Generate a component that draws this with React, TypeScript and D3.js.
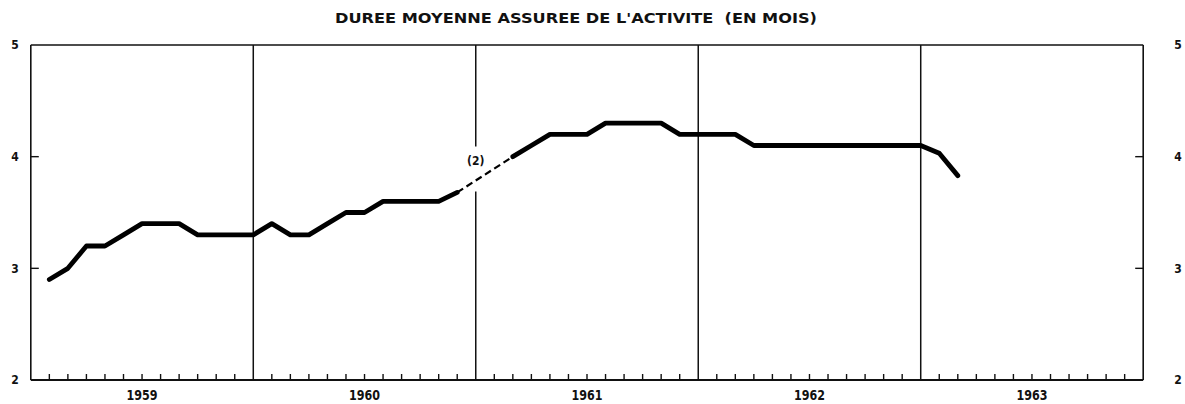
import React from "react";
import * as d3 from "d3";

// Monthly values, month index 1 = first point of 1959 (null = missing, bridged by dashed line)
const values1959: (number | null)[] = [2.9, 3.0, 3.2, 3.2, 3.3, 3.4, 3.4, 3.4, 3.3, 3.3, 3.3, 3.3];
const values1960: (number | null)[] = [3.4, 3.3, 3.3, 3.4, 3.5, 3.5, 3.6, 3.6, 3.6, 3.6, 3.68, null];
const values1961: (number | null)[] = [null, 4.0, 4.1, 4.2, 4.2, 4.2, 4.3, 4.3, 4.3, 4.3, 4.2, 4.2];
const values1962: (number | null)[] = [4.2, 4.2, 4.1, 4.1, 4.1, 4.1, 4.1, 4.1, 4.1, 4.1, 4.1, 4.1];
const values1963: (number | null)[] = [4.03, 3.83];

const years = ["1959", "1960", "1961", "1962", "1963"];
const yTicks = [2, 3, 4, 5];
const title = "DUREE MOYENNE ASSUREE DE L'ACTIVITE  (EN MOIS)";
const noteLabel = "(2)";

const W = 1185;
const H = 404;
const left = 30.8;
const right = 1143.2;
const top = 45;
const bottom = 380;

export default function App() {
  const allValues = [...values1959, ...values1960, ...values1961, ...values1962, ...values1963];
  const pts = allValues.map((v, i) => ({ m: i + 1, v }));
  const x = d3.scaleLinear().domain([0, 60]).range([left, right]);
  const y = d3.scaleLinear().domain([2, 5]).range([bottom, top]);

  const line = d3
    .line<{ m: number; v: number | null }>()
    .defined((d) => d.v !== null)
    .x((d) => x(d.m))
    .y((d) => y(d.v as number));

  // gap bridge
  const defined = pts.filter((d) => d.v !== null);
  const bridges: { a: any; b: any }[] = [];
  for (let i = 1; i < defined.length; i++) {
    if (defined[i].m - defined[i - 1].m > 1) bridges.push({ a: defined[i - 1], b: defined[i] });
  }

  const months = d3.range(1, 60).filter((m) => m % 12 !== 0);
  const yearBounds = [12, 24, 36, 48];
  const font = "'DejaVu Sans Condensed', 'Liberation Sans Narrow', sans-serif";

  const noteX = x(24);
  const noteY = 160.7;

  return (
    <svg width={W} height={H} style={{ position: "absolute", left: 0, top: 0, background: "#fff" }}>
      <rect x={0} y={0} width={W} height={H} fill="#fff" />
      <text
        x={576}
        y={23}
        textAnchor="middle"
        fontFamily="'DejaVu Sans', sans-serif"
        fontWeight="bold"
        fontSize={14.5}
        textLength={482}
        lengthAdjust="spacingAndGlyphs"
        fill="#111"
        style={{ whiteSpace: "pre" }}
      >
        {title}
      </text>

      {/* frame */}
      <line x1={left} x2={right} y1={top} y2={top} stroke="#111" strokeWidth={1.6} />
      <line x1={left} x2={left} y1={top} y2={bottom} stroke="#111" strokeWidth={1.6} />
      <line x1={right} x2={right} y1={top} y2={bottom} stroke="#111" strokeWidth={1.6} />
      <line x1={left} x2={right} y1={bottom} y2={bottom} stroke="#111" strokeWidth={2} />

      {/* year separators */}
      {yearBounds.map((m) =>
        m === 24 ? (
          <g key={m}>
            <line x1={x(m)} x2={x(m)} y1={top} y2={146.5} stroke="#111" strokeWidth={1.5} />
            <line x1={x(m)} x2={x(m)} y1={191.5} y2={bottom} stroke="#111" strokeWidth={1.5} />
          </g>
        ) : (
          <line key={m} x1={x(m)} x2={x(m)} y1={top} y2={bottom} stroke="#111" strokeWidth={1.5} />
        )
      )}

      {/* month ticks */}
      {months.map((m) => (
        <line key={m} x1={x(m)} x2={x(m)} y1={bottom} y2={bottom - 6} stroke="#111" strokeWidth={1.4} />
      ))}

      {/* y ticks */}
      {[3, 4].map((v) => (
        <g key={v}>
          <line x1={left} x2={left + 8} y1={y(v)} y2={y(v)} stroke="#111" strokeWidth={1.4} />
          <line x1={right} x2={right - 8} y1={y(v)} y2={y(v)} stroke="#111" strokeWidth={1.4} />
        </g>
      ))}
      {yTicks.map((v) => (
        <g key={v} fontFamily={font} fontWeight="bold" fontSize={12} fill="#111">
          <text x={15} y={y(v)} dy="0.36em" textAnchor="middle">
            {v}
          </text>
          <text x={1178} y={y(v)} dy="0.36em" textAnchor="middle">
            {v}
          </text>
        </g>
      ))}

      {/* year labels */}
      {years.map((yr, i) => (
        <text
          key={yr}
          x={x(i * 12 + 6)}
          y={400}
          textAnchor="middle"
          fontFamily={font}
          fontWeight="bold"
          fontSize={14}
          textLength={31}
          lengthAdjust="spacingAndGlyphs"
          fill="#111"
        >
          {yr}
        </text>
      ))}

      {/* data */}
      <path
        d={line(pts) || ""}
        fill="none"
        stroke="#000"
        strokeWidth={4.8}
        strokeLinejoin="round"
        strokeLinecap="round"
      />
      {bridges.map((b, i) => (
        <line
          key={i}
          x1={x(b.a.m)}
          y1={y(b.a.v)}
          x2={x(b.b.m)}
          y2={y(b.b.v)}
          stroke="#000"
          strokeWidth={2.2}
          strokeDasharray="7 4"
        />
      ))}

      <text
        x={noteX}
        y={noteY}
        dy="0.36em"
        textAnchor="middle"
        fontFamily={font}
        fontWeight="bold"
        fontSize={12}
        fill="#111"
      >
        {noteLabel}
      </text>
    </svg>
  );
}
